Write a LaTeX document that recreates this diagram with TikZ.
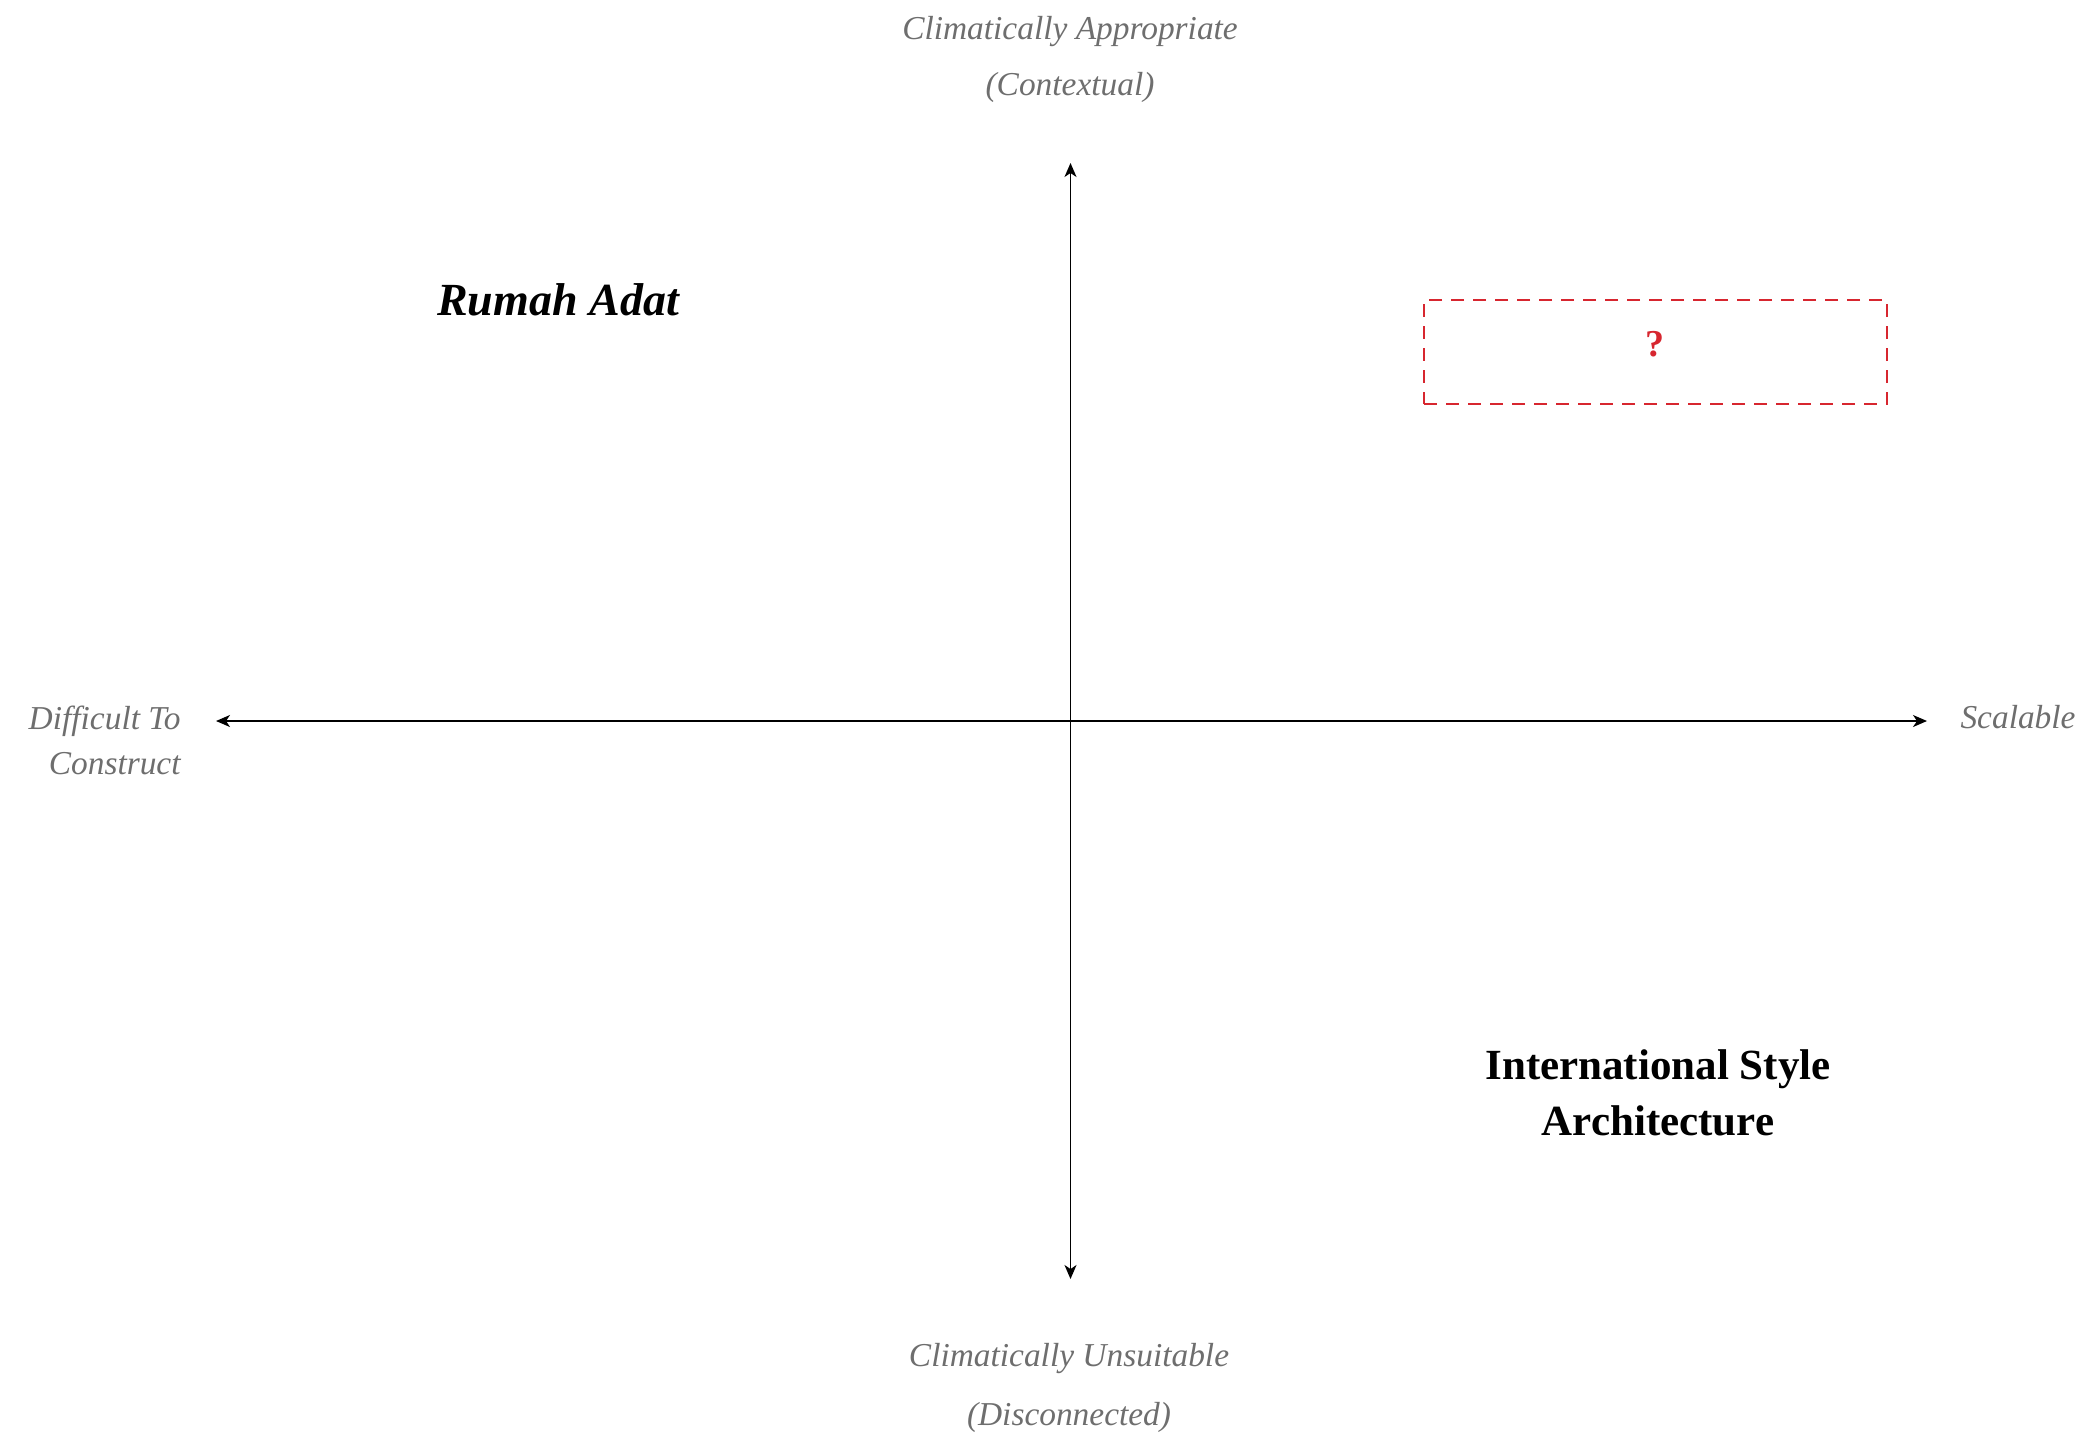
\documentclass[tikz,border=0pt]{standalone}
\usepackage{fontspec}
\setmainfont{Liberation Serif}
\usetikzlibrary{arrows.meta}
\definecolor{lbl}{HTML}{6E6E6E}
\definecolor{qred}{HTML}{D7262F}
\begin{document}
\begin{tikzpicture}[x=0.5pt,y=-0.5pt,
  axislabel/.style={text=lbl, font=\fontsize{16.7}{28}\selectfont\itshape, align=center, inner sep=0pt},
  sidelabel/.style={text=lbl, font=\fontsize{16.7}{22.5}\selectfont\itshape, inner sep=0pt},
  axisline/.style={line width=0.75pt, {Stealth[length=7pt,width=6pt,inset=2pt]}-{Stealth[length=7pt,width=6pt,inset=2pt]}},
  quadlabel/.style={text=black, align=center, inner sep=0pt},
  qboxstyle/.style={draw=qred, line width=1.35pt, dash pattern=on 6.5pt off 4.5pt, minimum width=231.5pt, minimum height=52pt, inner sep=0pt},
  qmarkstyle/.style={text=qred, font=\fontsize{19}{22}\selectfont\bfseries, inner sep=0pt}]
\useasboundingbox (0,0) rectangle (2093,1441);
% axis end points
\coordinate (T) at (1070.5,163);
\coordinate (B) at (1070.5,1279);
\coordinate (L) at (216,721);
\coordinate (R) at (1927,721);
\draw[axisline] (B) -- (T);
\draw[axisline] (L) -- (R);
% axis labels
\node[axislabel] (top) at (1070,59) {Climatically Appropriate\\(Contextual)};
\node[axislabel, font=\fontsize{16.7}{29.5}\selectfont\itshape] (bottom) at (1069,1388) {Climatically Unsuitable\\(Disconnected)};
\node[sidelabel, align=right, anchor=east] (left) at (181,740) {Difficult To\\Construct};
\node[sidelabel] (right) at (2018,717) {Scalable};
% quadrant labels
\node[quadlabel, font=\fontsize{23}{28}\selectfont\bfseries\itshape] (rumah) at (558,300) {Rumah Adat};
\node[quadlabel, font=\fontsize{21.5}{28}\selectfont\bfseries] (intl) at (1658,1093) {International Style\\Architecture};
\node[qboxstyle] (qbox) at (1655.5,352) {};
\node[qmarkstyle] (qmark) at (1655,344) {?};
\end{tikzpicture}
\end{document}
